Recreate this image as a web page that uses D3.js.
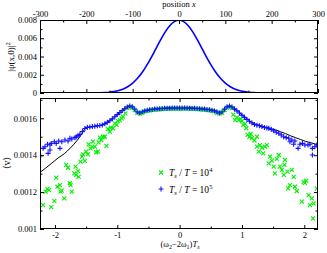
<!DOCTYPE html>
<html><head><meta charset="utf-8">
<script src="https://cdn.jsdelivr.net/npm/d3@7"></script>
<style>
html,body{margin:0;padding:0;background:#fff;}
svg{display:block;font-family:"Liberation Serif","DejaVu Serif",serif;}
</style></head><body>
<svg id="c" width="327" height="253"></svg>
<script>
// ---------- data ----------
const gaussX = [-300,-250,-200,-180,-170,-160,-150,-140,-130,-120,-110,-100,-90,-80,-70,-60,-50,-40,-30,-20,-10,0,10,20,30,40,50,60,70,80,90,100,110,120,130,140,150,160,170,180,200,250,300];
const gaussY = [0,0,0.000003,0.000012,0.000025,0.000048,0.000088,0.000158,0.000271,0.000448,0.000709,0.00108,0.00158,0.00222,0.00300,0.00388,0.00484,0.00579,0.00667,0.00737,0.00782,0.00798,0.00782,0.00737,0.00667,0.00579,0.00484,0.00388,0.00300,0.00222,0.00158,0.00108,0.000709,0.000448,0.000271,0.000158,0.000088,0.000048,0.000025,0.000012,0.000003,0,0];

const theoryX = [-2.24,-2.15,-2.05,-1.95,-1.85,-1.75,-1.65,-1.58,-1.53,-1.48,-1.42,-1.36,-1.30,-1.24,-1.18,-1.12,-1.06,-1.00,-0.94,-0.88,-0.84,-0.80,-0.77,-0.73,-0.69,-0.66,-0.62,-0.56,-0.48,-0.40,-0.30,-0.20,-0.10,0,0.10,0.20,0.30,0.40,0.48,0.56,0.62,0.66,0.69,0.73,0.77,0.80,0.84,0.88,0.94,1.00,1.06,1.12,1.18,1.24,1.30,1.38,1.46,1.54,1.62,1.70,1.78,1.86,1.94,2.02,2.10,2.22];
const theoryY = [0.001307,0.00133,0.001357,0.001385,0.001408,0.00144,0.001478,0.00151,0.00154,0.00155,0.001554,0.001557,0.00156,0.001564,0.001573,0.001587,0.001603,0.00162,0.001637,0.001652,0.001662,0.001667,0.001664,0.001652,0.001636,0.001628,0.001632,0.00164,0.001646,0.00165,0.001653,0.001655,0.001656,0.001656,0.001656,0.001655,0.001653,0.00165,0.001646,0.00164,0.001632,0.001628,0.001636,0.001652,0.001664,0.001667,0.001662,0.001652,0.001636,0.001618,0.001602,0.001586,0.001573,0.001566,0.00156,0.001552,0.001544,0.001537,0.001527,0.001517,0.001505,0.001495,0.001485,0.001475,0.001468,0.001456];

// T_s/T = 10^5 (blue)
const blueX = [-2.23,-2.19,-2.16,-2.12,-2.11,-2.08,-2.08,-2.06,-2.01,-1.98,-1.94,-1.92,-1.89,-1.84,-1.79,-1.76,-1.73,-1.68,-1.66,-1.63,-1.60,
 -1.56,-1.52,-1.48,-1.44,-1.40,-1.36,-1.32,-1.28,-1.24,-1.20,-1.16,-1.12,-1.08,-1.04,-1.00,-0.96,-0.92,-0.88,-0.84,-0.80,-0.76,-0.72,-0.68,-0.64,-0.60,-0.56,-0.52,-0.48,-0.44,-0.40,-0.36,-0.32,-0.28,-0.24,-0.20,-0.16,-0.12,-0.08,-0.04,0,
 0.04,0.08,0.12,0.16,0.20,0.24,0.28,0.32,0.36,0.40,0.44,0.48,0.52,0.56,0.60,0.64,0.68,0.72,0.76,0.80,0.84,0.88,0.92,0.96,1.00,1.04,1.08,1.12,1.16,1.20,1.24,
 1.28,1.32,1.36,1.40,1.43,1.47,1.51,1.55,1.59,1.63,1.67,1.71,1.75,1.77,1.80,1.83,1.85,1.90,1.93,1.97,2.01,2.06,2.09,2.13,2.13,2.17,2.20];
const blueY = [0.001397,0.001437,0.001446,0.001459,0.00141,0.001455,0.001428,0.001464,0.001473,0.001464,0.001477,0.001437,0.001473,0.001482,0.001477,0.001492,0.001488,0.001495,0.0015,0.001506,0.001513,
 0.001528,0.001545,0.001551,0.001553,0.001555,0.001557,0.001559,0.001561,0.001564,0.00157,0.001578,0.001587,0.001597,0.001608,0.00162,0.001631,0.001642,0.001652,0.001661,0.001666,0.001662,0.001649,0.001634,0.001629,0.001634,0.00164,0.001643,0.001646,0.001648,0.00165,0.001651,0.001652,0.001653,0.001654,0.001655,0.001655,0.001656,0.001656,0.001656,0.001656,
 0.001656,0.001656,0.001656,0.001655,0.001655,0.001654,0.001653,0.001652,0.001651,0.00165,0.001648,0.001646,0.001643,0.00164,0.001634,0.001629,0.001634,0.001649,0.001662,0.001666,0.001661,0.001651,0.00164,0.001629,0.001617,0.001605,0.001594,0.001584,0.001575,0.001567,0.001562,
 0.00156,0.001555,0.00155,0.001548,0.001546,0.00154,0.001532,0.001524,0.001519,0.00151,0.0015,0.001495,0.001492,0.001473,0.001482,0.001459,0.001477,0.001437,0.001459,0.001464,0.001455,0.001455,0.001459,0.001437,0.001401,0.001446,0.001455];

// T_s/T = 10^4 (green)
const greenX = [-2.19,-2.15,-2.12,-2.095,-2.06,-2.01,-1.98,-1.96,-1.92,-1.91,-1.89,-1.85,-1.82,-1.79,-1.76,-1.75,-1.73,-1.69,-1.67,-1.66,-1.63,-1.62,-1.59,-1.565,-1.55,-1.52,-1.50,-1.47,-1.46,-1.43,-1.40,-1.39,-1.36,-1.34,-1.31,-1.30,-1.28,-1.255,-1.23,-1.20,-1.175,-1.15,-1.12,-1.10,-1.07,-1.04,-1.01,-0.99,-0.96,-0.93,-0.91,-0.87,
 -0.84,-0.80,-0.76,-0.72,-0.68,-0.64,-0.60,-0.56,-0.52,-0.48,-0.44,-0.40,-0.36,-0.32,-0.28,-0.24,-0.20,-0.16,-0.12,-0.08,-0.04,0,0.04,0.08,0.12,0.16,0.20,0.24,0.28,0.32,0.36,0.40,0.44,0.48,0.52,0.56,0.60,0.64,0.68,0.72,0.76,0.80,0.84,
 0.86,0.89,0.92,0.95,0.98,1.00,1.02,1.05,1.07,1.09,1.12,1.14,1.16,1.20,1.24,1.24,1.27,1.29,1.32,1.34,1.37,1.40,1.43,1.45,1.48,1.51,1.53,1.56,1.59,1.61,1.64,1.67,1.68,1.69,1.73,1.74,1.77,1.80,1.83,1.85,1.88,1.96,1.99,2.01,2.03,2.07,2.09,2.12,2.14,2.15,2.20];
const greenY = [0.00113,0.001202,0.001217,0.001211,0.001118,0.001152,0.001278,0.001229,0.001238,0.001202,0.001208,0.001166,0.001347,0.001332,0.001248,0.001238,0.001202,0.001302,0.001338,0.001293,0.001314,0.001283,0.001365,0.001392,0.001405,0.001369,0.001419,0.001405,0.001459,0.001437,0.001445,0.001473,0.001446,0.001416,0.001419,0.00147,0.001495,0.001482,0.0015,0.0015,0.001451,0.001542,0.001527,0.00155,0.001546,0.001573,0.001564,0.001585,0.00159,0.0016,0.001609,0.001627,
 0.001657,0.001662,0.001658,0.001645,0.00163,0.001626,0.00163,0.001637,0.00164,0.001643,0.001645,0.001647,0.001648,0.001649,0.00165,0.001651,0.001652,0.001652,0.001653,0.001653,0.001653,0.001653,0.001653,0.001653,0.001653,0.001652,0.001652,0.001651,0.00165,0.001649,0.001648,0.001647,0.001645,0.001643,0.00164,0.001637,0.00163,0.001626,0.00163,0.001645,0.001658,0.001662,0.001655,
 0.00162,0.00159,0.001605,0.00159,0.001595,0.001585,0.001564,0.00157,0.001546,0.00151,0.0015,0.001515,0.001492,0.00148,0.0015,0.001446,0.001419,0.001455,0.00144,0.00141,0.001446,0.001455,0.001356,0.001392,0.00137,0.001338,0.001302,0.00138,0.001401,0.001338,0.00132,0.001293,0.001347,0.001374,0.001311,0.00122,0.001238,0.00132,0.001283,0.001229,0.001206,0.001148,0.001256,0.00125,0.001262,0.001184,0.00113,0.001166,0.001058,0.001139,0.00122];

const topTicks = [-300,-200,-100,0,100,200,300];
const topTickLabels = ["-300","-200","-100","0","100","200","300"];
const topMinor = [-250,-150,-50,50,150,250];
const psiTicks = [0,0.002,0.004,0.006,0.008];
const psiTickLabels = ["0","0.002","0.004","0.006","0.008"];
const psiMinor = [0.001,0.003,0.005,0.007];
const wTicks = [-2,-1,0,1,2];
const wTickLabels = ["-2","-1","0","1","2"];
const wMinor = [-1.5,-0.5,0.5,1.5];
const vTicks = [0.001,0.0012,0.0014,0.0016];
const vTickLabels = ["0.001","0.0012","0.0014","0.0016"];
const vMinor = [0.0011,0.0013,0.0015,0.0017];

// ---------- layout ----------
const svg = d3.select("#c");
const L = 40, R = 318;
const top1 = 20, bot1 = 93, top2 = 98, bot2 = 229;
const FONT = "Liberation Serif, DejaVu Serif, serif";

const xPos = d3.scaleLinear().domain([-300,300]).range([L,R]);
const yPsi = d3.scaleLinear().domain([0,0.008]).range([bot1,top1]);
const xW = d3.scaleLinear().domain([-2.24,2.22]).range([L,R]);
const yV = d3.scaleLinear().domain([0.001,0.00171]).range([bot2,top2]);

function drawAxis(orient, scale, vals, size, labels, tx, ty, pad) {
  const a = orient(scale).tickValues(vals).tickSizeInner(size).tickSizeOuter(0).tickPadding(pad || 3)
    .tickFormat(labels ? ((d,i) => labels[i]) : (() => ""));
  const g = svg.append("g").attr("transform", `translate(${tx},${ty})`).call(a);
  g.select(".domain").remove();
  g.attr("font-size", 8.5).attr("font-family", FONT);
  g.selectAll("line").attr("stroke", "#000");
  g.selectAll("text").attr("fill", "#000");
  return g;
}

// ---------- top panel ----------
svg.append("clipPath").attr("id","cp1").append("rect")
  .attr("x",L).attr("y",top1).attr("width",R-L).attr("height",bot1-top1);
const gaussData = gaussX.map((x,i)=>[x,gaussY[i]]);
svg.append("path").datum(gaussData)
  .attr("clip-path","url(#cp1)")
  .attr("fill","none").attr("stroke","#0000ff").attr("stroke-width",1.6)
  .attr("d", d3.line().x(d=>xPos(d[0])).y(d=>yPsi(d[1])).curve(d3.curveMonotoneX));

drawAxis(d3.axisTop, xPos, topTicks, -4, topTickLabels, 0, top1, 3.5);
drawAxis(d3.axisTop, xPos, topMinor, -2.5, null, 0, top1);
drawAxis(d3.axisBottom, xPos, topTicks, -4, null, 0, bot1);
drawAxis(d3.axisBottom, xPos, topMinor, -2.5, null, 0, bot1);
drawAxis(d3.axisLeft, yPsi, psiTicks, -4, psiTickLabels, L, 0, 3);
drawAxis(d3.axisLeft, yPsi, psiMinor, -2.5, null, L, 0);
drawAxis(d3.axisRight, yPsi, psiTicks, -4, null, R, 0);
drawAxis(d3.axisRight, yPsi, psiMinor, -2.5, null, R, 0);
svg.append("rect").attr("x",L+0.5).attr("y",top1+0.5).attr("width",R-L-1).attr("height",bot1-top1-1)
  .attr("fill","none").attr("stroke","#000").attr("stroke-width",1);

// ---------- bottom panel ----------
svg.append("clipPath").attr("id","cp2").append("rect")
  .attr("x",L).attr("y",top2).attr("width",R-L).attr("height",bot2-top2);
const gData = svg.append("g").attr("clip-path","url(#cp2)");
const theoryData = theoryX.map((x,i)=>[x,theoryY[i]]);
gData.append("path").datum(theoryData)
  .attr("fill","none").attr("stroke","#000").attr("stroke-width",1)
  .attr("d", d3.line().x(d=>xW(d[0])).y(d=>yV(d[1])).curve(d3.curveMonotoneX));

const xMark = r => `M${-r},${-r}L${r},${r}M${-r},${r}L${r},${-r}`;
const plusMark = r => `M${-r},0L${r},0M0,${-r}L0,${r}`;
const GREEN = "#00f000", BLUE = "#1010ff";

gData.selectAll(".g").data(greenX.map((x,i)=>[x,greenY[i]])).join("path")
  .attr("transform", d=>`translate(${xW(d[0])},${yV(d[1])})`)
  .attr("d", xMark(2)).attr("stroke", GREEN).attr("stroke-width",1.1).attr("fill","none");
gData.selectAll(".b").data(blueX.map((x,i)=>[x,blueY[i]])).join("path")
  .attr("transform", d=>`translate(${xW(d[0])},${yV(d[1])})`)
  .attr("d", plusMark(2.5)).attr("stroke", BLUE).attr("stroke-width",1.1).attr("fill","none");

drawAxis(d3.axisBottom, xW, wTicks, -4, wTickLabels, 0, bot2, 2.5);
drawAxis(d3.axisBottom, xW, wMinor, -2.5, null, 0, bot2);
drawAxis(d3.axisTop, xW, wTicks, -4, null, 0, top2);
drawAxis(d3.axisTop, xW, wMinor, -2.5, null, 0, top2);
drawAxis(d3.axisLeft, yV, vTicks, -4, vTickLabels, L, 0, 3);
drawAxis(d3.axisLeft, yV, vMinor, -2.5, null, L, 0);
drawAxis(d3.axisRight, yV, vTicks, -4, null, R, 0);
drawAxis(d3.axisRight, yV, vMinor, -2.5, null, R, 0);
svg.append("rect").attr("x",L+0.5).attr("y",top2+0.5).attr("width",R-L-1).attr("height",bot2-top2-1)
  .attr("fill","none").attr("stroke","#000").attr("stroke-width",1);

// ---------- titles ----------
const t1 = svg.append("text").attr("x",179).attr("y",7).attr("text-anchor","middle")
  .attr("font-size",8.5).attr("font-family",FONT);
t1.append("tspan").text("position ");
t1.append("tspan").attr("font-style","italic").text("x");

const t2 = svg.append("text").attr("transform","translate(14,57) rotate(-90)").attr("text-anchor","middle")
  .attr("font-size",9).attr("font-family",FONT);
t2.append("tspan").text("|ψ(x,0)|");
t2.append("tspan").attr("font-size",6.5).attr("dy",-4).text("2");

svg.append("text").attr("transform","translate(10,163) rotate(-90)").attr("text-anchor","middle")
  .attr("font-size",9).attr("font-family","DejaVu Serif, serif").text("⟨v⟩");

const t3 = svg.append("text").attr("x",180).attr("y",246.5).attr("text-anchor","middle")
  .attr("font-size",8.5).attr("font-family",FONT);
t3.append("tspan").text("(ω");
t3.append("tspan").attr("font-size",6).attr("dy",2).text("2");
t3.append("tspan").attr("dy",-2).text("−2ω");
t3.append("tspan").attr("font-size",6).attr("dy",2).text("1");
t3.append("tspan").attr("dy",-2).text(")");
t3.append("tspan").attr("font-style","italic").text("T");
t3.append("tspan").attr("font-size",6).attr("font-style","italic").attr("dy",2).text("s");

// ---------- legend ----------
const legendItems = [
  {mark: xMark(2), color: GREEN, w: 1.1, exp: "4", y: 172.5},
  {mark: plusMark(2.5), color: BLUE, w: 1.1, exp: "5", y: 189}
];
legendItems.forEach(it => {
  svg.append("path").attr("transform",`translate(161,${it.y})`).attr("d",it.mark)
    .attr("stroke",it.color).attr("stroke-width",it.w).attr("fill","none");
  const t = svg.append("text").attr("x",169).attr("y",it.y+3.5).attr("font-size",9.5).attr("font-family",FONT);
  t.append("tspan").attr("font-style","italic").text("T");
  t.append("tspan").attr("font-style","italic").attr("font-size",6.5).attr("dy",2).text("s");
  t.append("tspan").attr("dy",-2).text(" / ");
  t.append("tspan").attr("font-style","italic").text("T");
  t.append("tspan").text(" = 10");
  t.append("tspan").attr("font-size",6.5).attr("dy",-4).text(it.exp);
});
</script>
</body></html>
